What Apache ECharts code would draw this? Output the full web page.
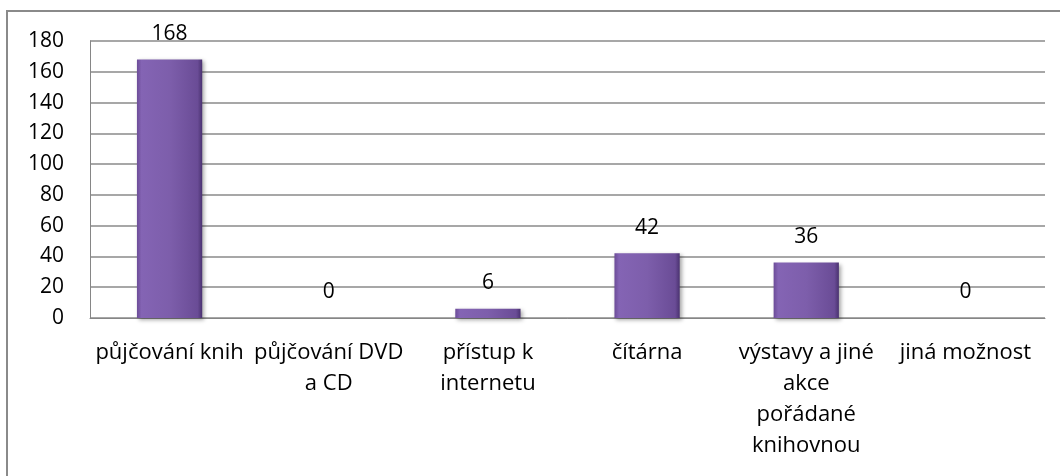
<!DOCTYPE html>
<html>
<head>
<meta charset="utf-8">
<script src="https://cdn.jsdelivr.net/npm/echarts@6/dist/echarts.min.js"></script>
<style>
  html, body { margin: 0; padding: 0; background: #fff; }
  #chart { width: 1060px; height: 476px; }
</style>
</head>
<body>
<div id="chart"></div>
<script>
// categories as shown on the x axis (line breaks as in the original)
const categories = [
  'půjčování knih',
  'půjčování DVD\na CD',
  'přístup k\ninternetu',
  'čítárna',
  'výstavy a jiné\nakce\npořádané\nknihovnou',
  'jiná možnost'
]
const values = [168, 0, 6, 42, 36, 0]
const yTicks = { min: 0, max: 180, interval: 20 }

const font = 'Open Sans, Noto Sans, sans-serif'
const chart = echarts.init(document.getElementById('chart'))

const barColor = new echarts.graphic.LinearGradient(0, 0, 1, 0, [
  { offset: 0, color: '#6c4c98' },
  { offset: 0.07, color: '#8464b4' },
  { offset: 0.5, color: '#7d5eab' },
  { offset: 0.93, color: '#6a4c96' },
  { offset: 1, color: '#4a3270' }
])

const option = {
  animation: false,
  backgroundColor: '#fff',
  graphic: [
    {
      type: 'rect',
      shape: { x: 7, y: 11, width: 1100, height: 520 },
      style: { fill: 'none', stroke: '#8a8a8a', lineWidth: 2 },
      silent: true
    }
  ],
  grid: { left: 90, right: 15, top: 41, bottom: 158 },
  xAxis: {
    type: 'category',
    data: categories,
    axisLine: { lineStyle: { color: '#868686', width: 1 } },
    axisTick: { show: false },
    axisLabel: {
      interval: 0,
      color: '#000',
      fontFamily: font,
      fontSize: 22,
      lineHeight: 31,
      margin: 19
    }
  },
  yAxis: {
    type: 'value',
    min: yTicks.min,
    max: yTicks.max,
    interval: yTicks.interval,
    axisLine: { show: true, lineStyle: { color: '#868686', width: 1 } },
    axisTick: { show: false },
    splitLine: { lineStyle: { color: '#8a8a8a', width: 1.5 } },
    axisLabel: {
      color: '#000',
      fontFamily: font,
      fontSize: 21,
      margin: 26
    }
  },
  series: [
    {
      type: 'bar',
      data: values,
      barWidth: '41%',
      itemStyle: {
        color: barColor,
        shadowColor: 'rgba(0,0,0,0.35)',
        shadowBlur: 4,
        shadowOffsetX: 2,
        shadowOffsetY: 2
      },
      label: {
        show: true,
        position: 'top',
        distance: 15,
        color: '#000',
        fontFamily: font,
        fontSize: 21
      }
    }
  ]
}

chart.setOption(option)
</script>
</body>
</html>
